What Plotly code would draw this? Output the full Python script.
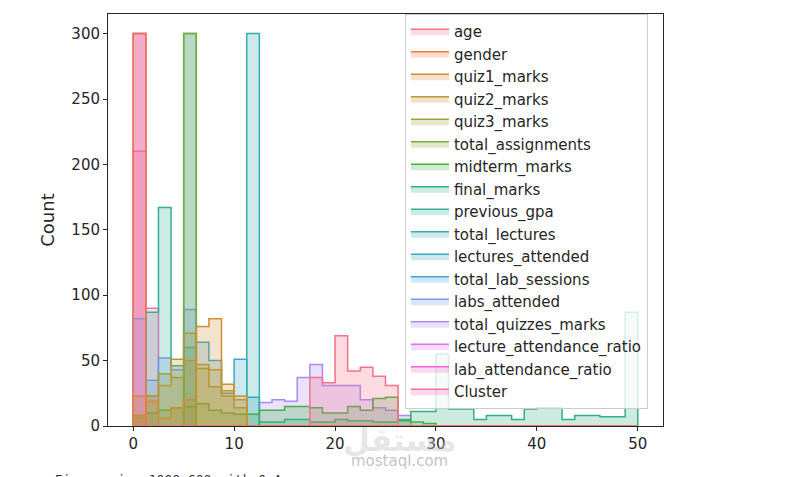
import plotly.graph_objects as go

# seaborn-style step histograms, 40 shared bins of width 1.25 between 0 and 50
columns = ["age", "gender", "quiz1_marks", "quiz2_marks", "quiz3_marks",
           "total_assignments", "midterm_marks", "final_marks", "previous_gpa",
           "total_lectures", "lectures_attended", "total_lab_sessions",
           "labs_attended", "total_quizzes_marks", "lecture_attendance_ratio",
           "lab_attendance_ratio", "Cluster"]

colors = ["#f77189", "#ee7a48", "#d08d32", "#bb9831", "#a0a131", "#7bab31",
          "#45b143", "#33b07f", "#35ae99", "#36acad", "#38a9c3", "#3fa3e1",
          "#7799f4", "#ad89f4", "#dc71f2", "#f562d6", "#f66bb1"]

bin_width = 1.25

age = [0, 0, 0, 0, 0, 0, 0, 0, 0, 0, 0, 0, 0, 0, 37, 33, 69, 42, 45, 38,
       31, 0, 0, 0, 0, 0, 0, 0, 0, 0, 0, 0, 0, 0, 0, 0, 0, 0, 0, 0]
gender = [300, 0, 0, 0, 0, 0, 0, 0, 0, 0, 0, 0, 0, 0, 0, 0, 0, 0, 0, 0,
          0, 0, 0, 0, 0, 0, 0, 0, 0, 0, 0, 0, 0, 0, 0, 0, 0, 0, 0, 0]
quiz1_marks = [23, 19, 6, 14, 20, 76, 82, 32, 23, 0, 0, 0, 0, 0, 0, 0, 0, 0, 0, 0,
               0, 0, 0, 0, 0, 0, 0, 0, 0, 0, 0, 0, 0, 0, 0, 0, 0, 0, 0, 0]
quiz2_marks = [8, 23, 31, 51, 50, 47, 43, 27, 20, 0, 0, 0, 0, 0, 0, 0, 0, 0, 0, 0,
               0, 0, 0, 0, 0, 0, 0, 0, 0, 0, 0, 0, 0, 0, 0, 0, 0, 0, 0, 0]
quiz3_marks = [6, 23, 40, 37, 71, 44, 30, 23, 14, 0, 0, 0, 0, 0, 0, 0, 0, 0, 0, 0,
               0, 0, 0, 0, 0, 0, 0, 0, 0, 0, 0, 0, 0, 0, 0, 0, 0, 0, 0, 0]
total_assignments = [0, 0, 0, 0, 300, 0, 0, 0, 0, 0, 0, 0, 0, 0, 0, 0, 0, 0, 0, 0,
                     0, 0, 0, 0, 0, 0, 0, 0, 0, 0, 0, 0, 0, 0, 0, 0, 0, 0, 0, 0]
midterm_marks = [8, 10, 12, 14, 15, 17, 12, 10, 9, 9, 12, 12, 15, 15, 14, 10, 10, 15, 12, 21,
                 22, 4, 3, 2, 0, 0, 0, 0, 0, 0, 0, 0, 0, 0, 0, 0, 0, 0, 0, 0]
final_marks = [0, 0, 0, 0, 0, 0, 0, 0, 0, 0, 3, 3, 5, 5, 3, 3, 5, 4, 4, 3,
               3, 5, 11, 11, 55, 13, 13, 5, 8, 8, 5, 13, 14, 14, 5, 8, 8, 7, 7, 87]
previous_gpa = [0, 87, 167, 46, 0, 0, 0, 0, 0, 0, 0, 0, 0, 0, 0, 0, 0, 0, 0, 0,
                0, 0, 0, 0, 0, 0, 0, 0, 0, 0, 0, 0, 0, 0, 0, 0, 0, 0, 0, 0]
total_lectures = [0, 0, 0, 0, 0, 0, 0, 0, 0, 300, 0, 0, 0, 0, 0, 0, 0, 0, 0, 0,
                  0, 0, 0, 0, 0, 0, 0, 0, 0, 0, 0, 0, 0, 0, 0, 0, 0, 0, 0, 0]
lectures_attended = [0, 0, 0, 0, 60, 64, 50, 25, 51, 22, 0, 0, 0, 0, 0, 0, 0, 0, 0, 0,
                     0, 0, 0, 0, 0, 0, 0, 0, 0, 0, 0, 0, 0, 0, 0, 0, 0, 0, 0, 0]
total_lab_sessions = [0, 0, 0, 0, 300, 0, 0, 0, 0, 0, 0, 0, 0, 0, 0, 0, 0, 0, 0, 0,
                      0, 0, 0, 0, 0, 0, 0, 0, 0, 0, 0, 0, 0, 0, 0, 0, 0, 0, 0, 0]
labs_attended = [82, 35, 52, 43, 89, 0, 0, 0, 0, 0, 0, 0, 0, 0, 0, 0, 0, 0, 0, 0,
                 0, 0, 0, 0, 0, 0, 0, 0, 0, 0, 0, 0, 0, 0, 0, 0, 0, 0, 0, 0]
total_quizzes_marks = [0, 0, 0, 0, 0, 0, 0, 0, 0, 0, 18, 20, 19, 37, 47, 31, 31, 31, 20, 14,
                       12, 8, 0, 0, 0, 0, 0, 0, 0, 0, 0, 0, 0, 0, 0, 0, 0, 0, 0, 0]
lecture_attendance_ratio = [300, 0, 0, 0, 0, 0, 0, 0, 0, 0, 0, 0, 0, 0, 0, 0, 0, 0, 0, 0,
                            0, 0, 0, 0, 0, 0, 0, 0, 0, 0, 0, 0, 0, 0, 0, 0, 0, 0, 0, 0]
lab_attendance_ratio = [300, 0, 0, 0, 0, 0, 0, 0, 0, 0, 0, 0, 0, 0, 0, 0, 0, 0, 0, 0,
                        0, 0, 0, 0, 0, 0, 0, 0, 0, 0, 0, 0, 0, 0, 0, 0, 0, 0, 0, 0]
cluster = [210, 90, 0, 0, 0, 0, 0, 0, 0, 0, 0, 0, 0, 0, 0, 0, 0, 0, 0, 0,
           0, 0, 0, 0, 0, 0, 0, 0, 0, 0, 0, 0, 0, 0, 0, 0, 0, 0, 0, 0]

counts = [age, gender, quiz1_marks, quiz2_marks, quiz3_marks, total_assignments,
          midterm_marks, final_marks, previous_gpa, total_lectures,
          lectures_attended, total_lab_sessions, labs_attended,
          total_quizzes_marks, lecture_attendance_ratio, lab_attendance_ratio,
          cluster]


def hex_rgba(h, a):
	h = h.lstrip("#")
	return "rgba(%d,%d,%d,%s)" % (int(h[0:2], 16), int(h[2:4], 16), int(h[4:6], 16), a)


fig = go.Figure()

# seaborn draws the last hue level first, so the first column ends up on top
for name, col, y in reversed(list(zip(columns, colors, counts))):
	edges = [i * bin_width for i in range(len(y) + 1)]
	xs = [edges[0]] + edges[:-1] + [edges[-1], edges[-1]]
	ys = [0] + y + [y[-1], 0]
	fig.add_trace(go.Scatter(x=xs, y=ys, name=name, mode="lines",
		line=dict(color=col, width=1.5, shape="hv"),
		fill="tozeroy", fillcolor=hex_rgba(col, 0.25), hoverinfo="skip"))

font = dict(family="DejaVu Sans", size=15, color="#262626")

# the page has an 8px body margin, so the margins are shifted to compensate
fig.update_layout(
	width=800, height=477, autosize=False,
	margin=dict(l=100, r=145, t=6, b=59),
	plot_bgcolor="white", paper_bgcolor="white",
	font=font, showlegend=True,
	legend=dict(x=0.535, y=1, xanchor="left", yanchor="top",
		traceorder="reversed", bgcolor="rgba(255,255,255,0.8)",
		bordercolor="#cccccc", borderwidth=1, itemwidth=38, font=font),
)
fig.update_xaxes(range=[-2.5, 52.5], tickvals=[0, 10, 20, 30, 40, 50],
	ticks="outside", ticklen=4, tickcolor="#262626", showline=True, mirror=True,
	linecolor="#262626", linewidth=1, showgrid=False, zeroline=False)
fig.update_yaxes(range=[0, 315], dtick=50, title=dict(text="Count", standoff=12),
	ticks="outside", ticklen=4, tickcolor="#262626", showline=True, mirror=True,
	linecolor="#262626", linewidth=1, showgrid=False, zeroline=False)

# watermark and the notebook output line underneath
fig.add_annotation(text="<b>مستقل</b>", xref="paper", yref="paper", x=0.526, y=-0.034,
	yanchor="middle", showarrow=False,
	font=dict(family="DejaVu Sans", size=31, color="rgba(200,200,200,0.45)"))
fig.add_annotation(text="mostaql.com", xref="paper", yref="paper", x=0.526, y=-0.085,
	yanchor="middle", showarrow=False,
	font=dict(family="DejaVu Sans", size=15, color="rgba(175,175,175,0.75)"))
fig.add_annotation(text="<Figure size 1000x600 with 0 Axes>", xref="paper", yref="paper",
	x=-0.114, y=-0.13, xanchor="left", yanchor="middle", showarrow=False,
	font=dict(family="DejaVu Sans Mono", size=13, color="#333333"))

fig.write_html("out.html")
